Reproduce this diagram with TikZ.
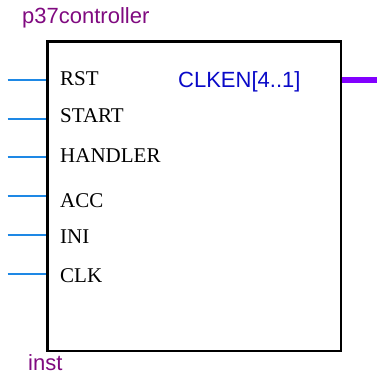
\documentclass[tikz,border=0pt]{standalone}
\usepackage{fontspec}
\setmainfont{Liberation Serif}
\newfontfamily\arialfont{Liberation Sans}
\usepackage{tikz}
\usetikzlibrary{positioning}

\definecolor{instpurple}{RGB}{128,10,128}
\definecolor{portblue}{RGB}{10,10,200}
\definecolor{wireblue}{RGB}{30,136,229}
\definecolor{buswire}{RGB}{130,0,255}

\begin{document}
\begin{tikzpicture}
    [
    x=1pt, y=-1pt,
    block/.style={draw,line width=2.5pt,inner sep=0pt,minimum width=293.5pt,minimum height=309.5pt},
    pinname/.style={anchor=base west,inner sep=0pt,font=\fontsize{21}{21}\selectfont},
    outname/.style={anchor=base west,inner sep=0pt,text=portblue,font=\arialfont\fontsize{22}{22}\selectfont},
    tag/.style={anchor=base west,inner sep=0pt,text=instpurple,font=\arialfont\fontsize{22}{22}\selectfont},
    wire/.style={draw=wireblue,line width=2pt},
    bus/.style={draw=buswire,line width=6pt}
    ]
    \useasboundingbox (0,0) rectangle (377,376);
    \node (inst) at (194.25,196.25) [block] {};

    \node (title) at (22,23) [tag] {p37controller};
    \node (name) at (28,370) [tag] {inst};

    \node (rst) at (60,85) [pinname] {RST};
    \node (start) at (60,122) [pinname] {START};
    \node (handler) at (60,162) [pinname] {HANDLER};
    \node (acc) at (60,207) [pinname] {ACC};
    \node (ini) at (60,243) [pinname] {INI};
    \node (clk) at (60,282) [pinname] {CLK};
    \node (clken) at (178,87) [outname] {CLKEN[4..1]};

    \coordinate (rst-in) at (7.5,80);
    \coordinate (start-in) at (7.5,118.5);
    \coordinate (handler-in) at (7.5,157);
    \coordinate (acc-in) at (7.5,196);
    \coordinate (ini-in) at (7.5,235);
    \coordinate (clk-in) at (7.5,274);
    \coordinate (clken-out) at (377,79.5);

    \draw [wire] (rst-in) to (rst-in -| inst.west);
    \draw [wire] (start-in) to (start-in -| inst.west);
    \draw [wire] (handler-in) to (handler-in -| inst.west);
    \draw [wire] (acc-in) to (acc-in -| inst.west);
    \draw [wire] (ini-in) to (ini-in -| inst.west);
    \draw [wire] (clk-in) to (clk-in -| inst.west);
    \draw [bus] (clken-out -| inst.east) to (clken-out);
  \end{tikzpicture}
\end{document}
